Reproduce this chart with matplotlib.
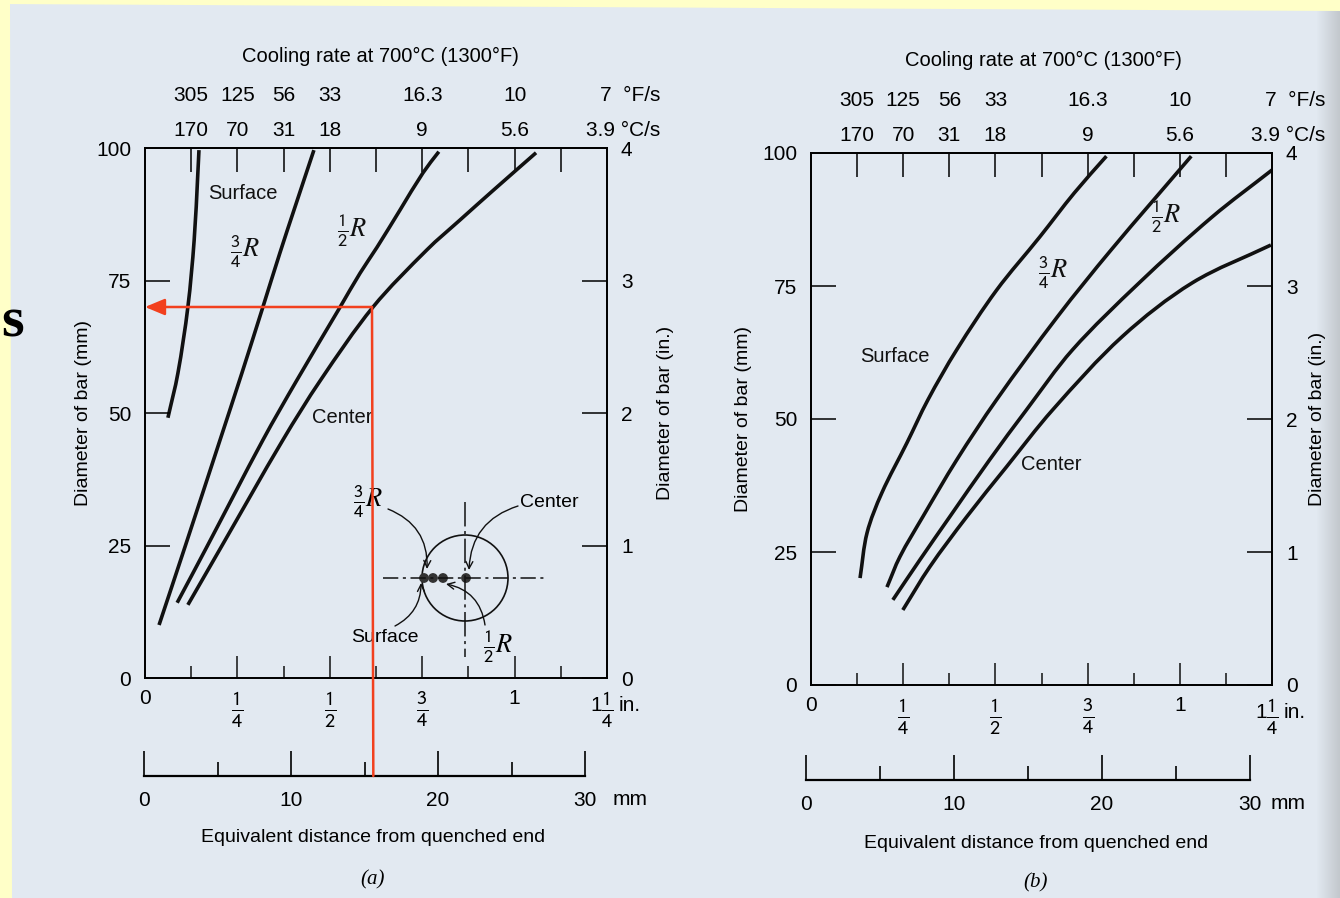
import matplotlib
matplotlib.use('Agg')
import matplotlib.pyplot as plt
import numpy as np
from matplotlib.patches import Polygon, Circle, ConnectionPatch, PathPatch
from matplotlib.path import Path
from matplotlib.ticker import NullFormatter

plt.rcParams['font.family'] = ['Liberation Sans', 'DejaVu Sans']
plt.rcParams['mathtext.fontset'] = 'stix'

W, H = 1340, 898
PAPER = '#e2e9f1'
YELLOW = '#ffffc8'
RED = '#f2401e'
INK = '#111111'

# ---- data: equivalent Jominy distance (in.) vs bar diameter (mm) ----
# (a) water quench
water_surface_in = [0.062, 0.089, 0.116, 0.133, 0.143, 0.146]
water_surface_mm = [49.1, 57.5, 70.0, 82.6, 95.3, 99.6]
water_34R_in = [0.038, 0.108, 0.203, 0.262, 0.319, 0.365, 0.406, 0.457]
water_34R_mm = [10.0, 24.7, 44.9, 57.5, 70.0, 80.2, 88.9, 99.6]
water_12R_in = [0.087, 0.167, 0.319, 0.411, 0.528, 0.582, 0.628, 0.690, 0.752, 0.795]
water_12R_mm = [14.2, 24.7, 44.9, 56.2, 70.0, 76.4, 81.3, 88.3, 95.3, 99.3]
water_center_in = [0.116, 0.206, 0.373, 0.475, 0.617, 0.763, 0.852, 0.942, 1.058]
water_center_mm = [13.8, 24.7, 44.9, 56.2, 70.0, 80.8, 86.4, 92.0, 99.1]

# (b) oil quench
oil_surface_in = [0.133, 0.152, 0.192, 0.260, 0.317, 0.395, 0.503, 0.620, 0.714, 0.801]
oil_surface_mm = [20.1, 28.6, 36.1, 45.5, 53.6, 63.0, 74.2, 84.2, 92.5, 99.4]
oil_34R_in = [0.206, 0.241, 0.303, 0.395, 0.503, 0.668, 0.814, 1.031]
oil_34R_mm = [18.4, 24.1, 31.6, 42.3, 53.6, 69.2, 81.8, 99.4]
oil_12R_in = [0.222, 0.295, 0.376, 0.484, 0.584, 0.709, 0.890, 1.088, 1.250]
oil_12R_mm = [16.0, 23.5, 31.6, 42.3, 51.7, 63.0, 75.6, 88.0, 96.8]
oil_center_in = [0.249, 0.322, 0.422, 0.530, 0.655, 0.844, 1.034, 1.247]
oil_center_mm = [14.1, 22.2, 31.6, 41.0, 51.7, 65.5, 75.6, 82.7]

# cooling rate scale along the top (positions in eighths of an inch)
rate_pos_eighths = [1, 2, 3, 4, 6, 8, 10]
rate_F = ['305', '125', '56', '33', '16.3', '10', '7']
rate_C = ['170', '70', '31', '18', '9', '5.6', '3.9']

x_major = [0, 0.25, 0.5, 0.75, 1.0, 1.25]
x_major_labels = ['0', r'$\frac{\mathsf{1}}{\mathsf{4}}$', r'$\frac{\mathsf{1}}{\mathsf{2}}$',
                  r'$\frac{\mathsf{3}}{\mathsf{4}}$', '1', r'$\frac{\mathsf{1}}{\mathsf{4}}$']
mm_major = [0, 10, 20, 30]
mm_minor = [5, 15, 25]

# worked example in (a): 70 mm bar, 3/4R
example_mm_dist = 15.6
example_diam = 70


def fx(px):
    return px / W


def fy(py):
    return 1 - py / H


def smooth(xs, ys):
    # cubic bezier through the read points, chord-length tangents
    p = np.column_stack([xs, ys])
    q = p / [1.25, 87.0]
    t = np.concatenate([[0], np.cumsum(np.hypot(*np.diff(q, axis=0).T))])
    n = len(p)
    m = np.zeros_like(p)
    m[0] = (p[1] - p[0]) / (t[1] - t[0])
    m[-1] = (p[-1] - p[-2]) / (t[-1] - t[-2])
    for i in range(1, n - 1):
        m[i] = (p[i + 1] - p[i - 1]) / (t[i + 1] - t[i - 1])
    verts = [p[0]]
    codes = [Path.MOVETO]
    for i in range(n - 1):
        h = (t[i + 1] - t[i]) / 3
        verts += [p[i] + m[i] * h, p[i + 1] - m[i + 1] * h, p[i + 1]]
        codes += [Path.CURVE4] * 3
    return Path(verts, codes)


fig = plt.figure(figsize=(13.4, 8.98), dpi=100, facecolor=PAPER)

# scan border
fig.patches.append(Polygon([(0, 1), (1, 1), (1, fy(11)), (0, fy(4))], closed=True,
                           transform=fig.transFigure, facecolor=YELLOW, edgecolor='none'))
fig.patches.append(Polygon([(0, 0), (fx(12), 0), (fx(10), 1), (0, 1)], closed=True,
                           transform=fig.transFigure, facecolor=YELLOW, edgecolor='none'))
edge = fig.add_axes([fx(1316), 0, 24 / W, 1])
edge.imshow(np.linspace(0, 1, 24)[None, :], aspect='auto',
            cmap=matplotlib.colors.LinearSegmentedColormap.from_list('e', [PAPER, '#c3c8cd']))
edge.axis('off')
fig.text(fx(1), fy(322), 's', ha='left', va='center', fontsize=42,
         fontweight='bold', family='Liberation Serif', color='black')


def panel(box, curves, labels, mm_box, mm_unit_dx, px):
    left, top, right, bottom = box
    ax = fig.add_axes([fx(left), fy(bottom), fx(right) - fx(left), (bottom - top) / H])
    ax.set_facecolor('none')
    ax.set_xlim(0, 1.25)
    ax.set_ylim(0, 100)
    for s in ax.spines.values():
        s.set_linewidth(1.3)
        s.set_color(INK)
    for xs, ys in curves:
        ax.add_patch(PathPatch(smooth(xs, ys), fill=False, edgecolor=INK, lw=2.6,
                               capstyle='butt', joinstyle='round'))

    ax.set_xticks(x_major)
    ax.set_xticklabels(x_major_labels)
    ax.set_xticks(np.arange(1, 10, 2) / 8, minor=True)
    ax.tick_params(axis='x', which='major', direction='in', length=16, width=1.1,
                   pad=8, labelsize=15, color=INK)
    ax.tick_params(axis='x', which='minor', direction='in', length=9, width=1.1, color=INK)
    for lbl in ax.get_xticklabels():
        if 'frac' in lbl.get_text():
            lbl.set_fontsize(21)
    ax.set_yticks([0, 25, 50, 75, 100])
    ax.tick_params(axis='y', direction='in', length=18, width=1.1, pad=10, labelsize=15)
    ax.annotate('1', xy=(1.25, 0), xycoords=('data', 'axes fraction'), xytext=(-8, -19.5),
                textcoords='offset points', ha='center', va='center', fontsize=15)
    ax.annotate('in.', xy=(1.25, 0), xycoords=('data', 'axes fraction'), xytext=(8.5, -19.5),
                textcoords='offset points', ha='left', va='center', fontsize=15)

    top_ax = ax.secondary_xaxis('top')
    top_ax.set_xticks(np.arange(1, 10) / 8)
    top_ax.xaxis.set_major_formatter(NullFormatter())
    top_ax.tick_params(direction='in', length=17, width=1.1)
    top_ax.spines['top'].set_linewidth(1.3)

    for p, f, c in zip(rate_pos_eighths, rate_F, rate_C):
        if p == 10:
            ax.annotate(f + '  \u00b0F/s', xy=(p / 8, 1), xycoords=('data', 'axes fraction'),
                        xytext=(-5, 37.5), textcoords='offset points', ha='left', va='center', fontsize=15)
            ax.annotate(c + ' \u00b0C/s', xy=(p / 8, 1), xycoords=('data', 'axes fraction'),
                        xytext=(-15, 12.5), textcoords='offset points', ha='left', va='center', fontsize=15)
        else:
            ax.annotate(f, xy=(p / 8, 1), xycoords=('data', 'axes fraction'), xytext=(0, 37.5),
                        textcoords='offset points', ha='center', va='center', fontsize=15)
            ax.annotate(c, xy=(p / 8, 1), xycoords=('data', 'axes fraction'), xytext=(0, 12.5),
                        textcoords='offset points', ha='center', va='center', fontsize=15)

    rax = ax.twinx()
    rax.set_ylim(0, 4)
    rax.set_yticks(range(5))
    rax.tick_params(direction='in', length=18, width=1.1, pad=10, labelsize=15)
    for s in rax.spines.values():
        s.set_linewidth(1.3)

    for txt, x, y in labels:
        ax.text(x, y, txt, ha='center', va='center', fontsize=19 if 'R' in txt else 14.5, color=INK)

    mleft, mright, my = mm_box
    mx = fig.add_axes([fx(mleft), fy(my), fx(mright) - fx(mleft), 0.03])
    mx.set_facecolor('none')
    mx.set_xlim(0, 30)
    mx.set_ylim(0, 1)
    for k in ['top', 'left', 'right']:
        mx.spines[k].set_visible(False)
    mx.spines['bottom'].set_linewidth(1.6)
    mx.set_yticks([])
    mx.set_xticks(mm_major)
    mx.set_xticks(mm_minor, minor=True)
    mx.tick_params(axis='x', which='major', direction='in', length=18, width=1.2, pad=11, labelsize=15)
    mx.tick_params(axis='x', which='minor', direction='in', length=10, width=1.2)
    mx.annotate('mm', xy=(30, 0), xycoords='data', xytext=(mm_unit_dx, -17),
                textcoords='offset points', ha='left', va='center', fontsize=15)

    cx, t_y, f_y, c_y, l_x, r_x, e_y, p_y = px
    fig.text(fx(cx), fy(t_y), 'Cooling rate at 700\u00b0C (1300\u00b0F)', ha='center', va='center', fontsize=14.5)
    fig.text(fx(l_x), fy((top + bottom) / 2), 'Diameter of bar (mm)', rotation=90,
             ha='center', va='center', fontsize=14)
    fig.text(fx(r_x), fy((top + bottom) / 2), 'Diameter of bar (in.)', rotation=90,
             ha='center', va='center', fontsize=14)
    fig.text(fx(f_y), fy(e_y), 'Equivalent distance from quenched end', ha='center', va='center', fontsize=14)
    fig.text(fx(f_y), fy(p_y), c_y, ha='center', va='center', fontsize=15,
             family='Liberation Serif', style='italic')
    return ax, mx


ax_a, mm_a = panel((145, 148, 607, 678),
                   [(water_surface_in, water_surface_mm), (water_34R_in, water_34R_mm),
                    (water_12R_in, water_12R_mm), (water_center_in, water_center_mm)],
                   [('Surface', 0.265, 91.5), (r'$\frac{\mathsf{3}}{\mathsf{4}}R$', 0.271, 80.5),
                    (r'$\frac{\mathsf{1}}{\mathsf{2}}R$', 0.560, 84.5), ('Center', 0.533, 49.1)],
                   (144, 585, 776), 20,
                   (380, 56, 373, '(a)', 83, 665, 838, 880))

ax_b, mm_b = panel((811, 153, 1272, 685),
                   [(oil_surface_in, oil_surface_mm), (oil_34R_in, oil_34R_mm),
                    (oil_12R_in, oil_12R_mm), (oil_center_in, oil_center_mm)],
                   [('Surface', 0.227, 61.7), (r'$\frac{\mathsf{3}}{\mathsf{4}}R$', 0.655, 77.5),
                    (r'$\frac{\mathsf{1}}{\mathsf{2}}R$', 0.963, 88.0), ('Center', 0.652, 41.4)],
                   (806, 1250, 780), 15,
                   (1043, 60, 1036, '(b)', 743, 1318, 843, 883))

# worked example (red)
ax_a.annotate('', xy=(0, example_diam), xytext=(example_mm_dist / 25.4, example_diam),
              arrowprops=dict(arrowstyle='-|>,head_length=1.2,head_width=0.5', color=RED,
                              lw=1.8, shrinkA=0, shrinkB=0))
fig.add_artist(ConnectionPatch(xyA=(example_mm_dist, 0), coordsA=mm_a.transData,
                               xyB=(example_mm_dist / 25.4, example_diam), coordsB=ax_a.transData,
                               color=RED, lw=1.8))

# inset: bar cross-section
ins = fig.add_axes([fx(340), fy(665), 250 / W, 185 / H])
ins.set_xlim(-125, 125)
ins.set_ylim(-87, 98)
ins.axis('off')
ins.add_patch(Circle((0, 0), 43, fill=False, lw=1.2, color=INK))
ins.plot([-82, 82], [0, 0], color=INK, lw=1.1, dashes=(10, 3, 2, 3))
ins.plot([0, 0], [76, -79], color=INK, lw=1.1, dashes=(16, 3, 2, 3))
for dx in [-41, -32, -22, 1]:
    ins.add_patch(Circle((dx, 0), 4.2, color='#333333'))
ins.text(-97, 76, r'$\frac{\mathsf{3}}{\mathsf{4}}R$', ha='center', va='center', fontsize=19)
ins.text(55, 75, 'Center', ha='left', va='center', fontsize=14)
ins.text(-80, -60, 'Surface', ha='center', va='center', fontsize=14)
ins.text(33, -69, r'$\frac{\mathsf{1}}{\mathsf{2}}R$', ha='center', va='center', fontsize=19)
arr = dict(arrowstyle='->,head_length=0.5,head_width=0.25', color=INK, lw=1.0, shrinkA=0, shrinkB=0)
ins.annotate('', xy=(-38, 9), xytext=(-77, 69), arrowprops=dict(arr, connectionstyle='arc3,rad=-0.35'))
ins.annotate('', xy=(4, 8), xytext=(53, 72), arrowprops=dict(arr, connectionstyle='arc3,rad=0.35'))
ins.annotate('', xy=(-44, -5), xytext=(-70, -48), arrowprops=dict(arr, connectionstyle='arc3,rad=0.3'))
ins.annotate('', xy=(-19, -6), xytext=(20, -47), arrowprops=dict(arr, connectionstyle='arc3,rad=0.35'))

fig.savefig('out.png', dpi=100, facecolor=PAPER)
